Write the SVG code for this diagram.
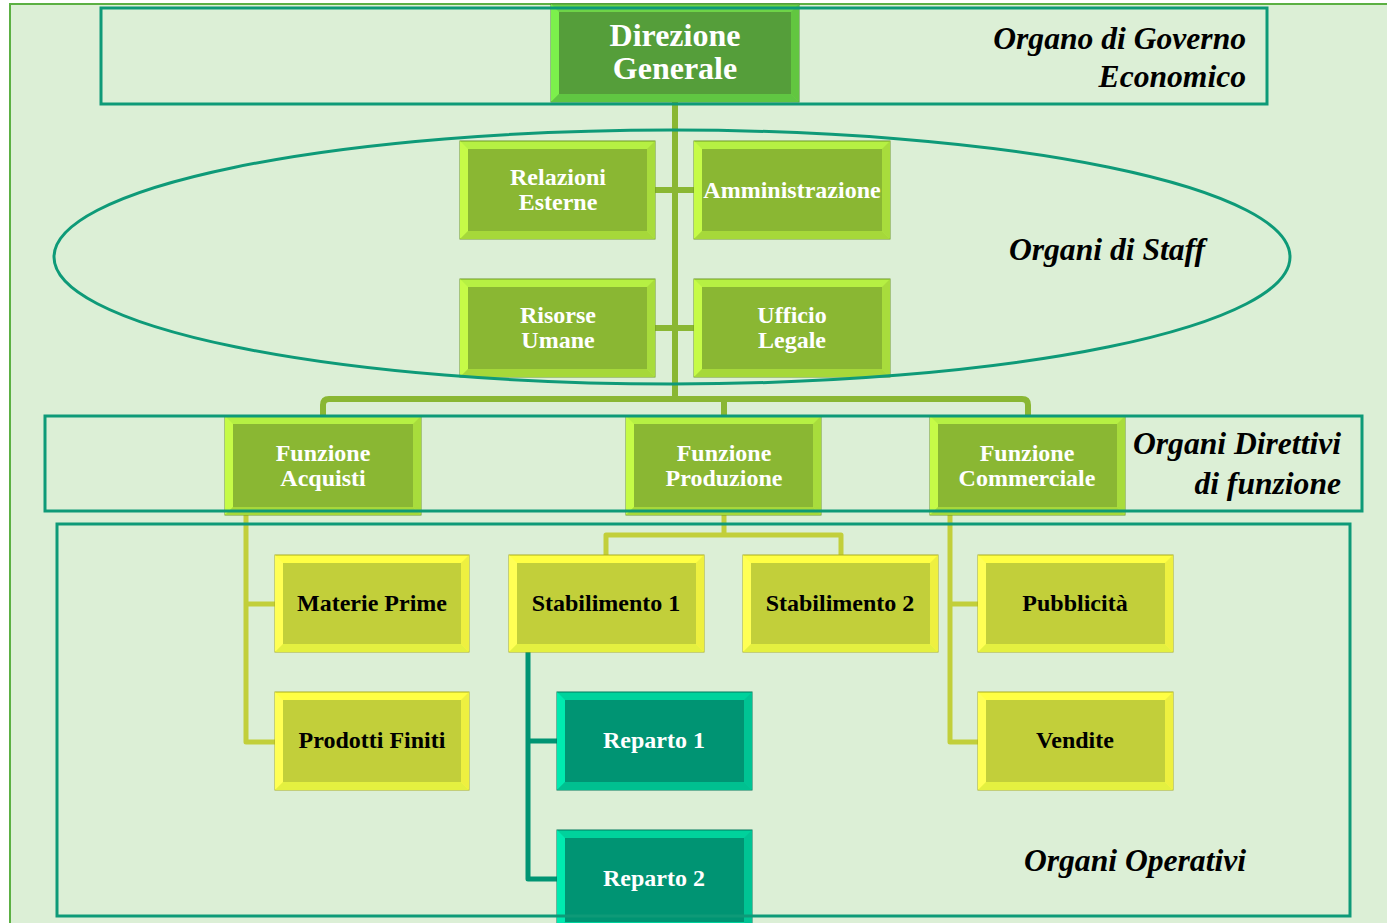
<svg xmlns="http://www.w3.org/2000/svg" width="1387" height="923" viewBox="0 0 1387 923">
  <defs>
    <style>
      .bg { fill: #dcefd6; stroke: #5cb043; stroke-width: 2; }
      .frame { fill: none; stroke: #0e9a78; stroke-width: 3; }
      .lbl { font-family: "Liberation Serif", "Times New Roman", serif; font-weight: bold; font-style: italic; font-size: 31.6px; fill: #000; text-anchor: end; }
      .t { font-family: "Liberation Serif", "Times New Roman", serif; font-weight: bold; font-size: 24px; text-anchor: middle; }
      .tw { fill: #ffffff; }
      .tk { fill: #000000; }
      .big { font-size: 32px; }
      .cg { fill: none; stroke: #8ab733; stroke-width: 6; stroke-linejoin: round; }
      .cy { fill: none; stroke: #c2cf3a; stroke-width: 5; stroke-linejoin: round; }
      .ct { fill: none; stroke: #009473; stroke-width: 5; stroke-linejoin: round; }
      /* bevelled boxes: base = top bevel, then left/right/bottom bevels, then face */
      .dg .b { fill: #6ed448; stroke: #4a8c34; stroke-width: 1; }
      .dg .l { fill: #7cf04c; } .dg .r { fill: #62c640; } .dg .d { fill: #60c642; } .dg .f { fill: #559e3a; }
      .gr .b { fill: #b6f043; stroke: #6f9a27; stroke-width: 1; }
      .gr .l { fill: #c6fb47; } .gr .r { fill: #a8dc3c; } .gr .d { fill: #a6d83a; } .gr .f { fill: #8ab733; }
      .ye .b { fill: #ffff44; stroke: #a9ad1f; stroke-width: 1; }
      .ye .l { fill: #ffff55; } .ye .r { fill: #eef040; } .ye .d { fill: #e4f040; } .ye .f { fill: #c2cf3a; }
      .te .b { fill: #00d29c; stroke: #007a5e; stroke-width: 1; }
      .te .l { fill: #00eab0; } .te .r { fill: #00c494; } .te .d { fill: #00c090; } .te .f { fill: #009473; }
    </style>
  </defs>

  <!-- page background -->
  <rect class="bg" x="10" y="4" width="1390" height="930"/>

  <!-- connectors -->
  <g id="connectors">
    <path class="cg" d="M675,102 V399"/>
    <path class="cg" d="M655,190 H694 M655,328 H694"/>
    <path class="cg" d="M323,416 V405 Q323,399 329,399 H1022 Q1028,399 1028,405 V416 M724,399 V416"/>
    <path class="cy" d="M246,515 V742 H275 M246,604 H275"/>
    <path class="cy" d="M724,515 V535 M606,555 V535 H841 V555"/>
    <path class="cy" d="M950,515 V742 H978 M950,604 H978"/>
    <path class="ct" d="M528,652 V879 H557 M528,741 H557"/>
  </g>

  <!-- Direzione Generale -->
  <g id="direzione" class="dg">
    <rect class="b" x="551" y="4" width="248" height="98"/>
    <polygon class="l" points="551,4 559,12 559,94 551,102"/>
    <polygon class="r" points="799,4 791,12 791,94 799,102"/>
    <polygon class="d" points="551,102 559,94 791,94 799,102"/>
    <rect class="f" x="559" y="12" width="232" height="82"/>
    <text class="t tw big" x="675" y="46">Direzione</text>
    <text class="t tw big" x="675" y="79">Generale</text>
  </g>

  <!-- staff -->
  <g id="relazioni" class="gr">
    <rect class="b" x="460" y="141" width="195" height="98"/>
    <polygon class="l" points="460,141 468,149 468,231 460,239"/>
    <polygon class="r" points="655,141 647,149 647,231 655,239"/>
    <polygon class="d" points="460,239 468,231 647,231 655,239"/>
    <rect class="f" x="468" y="149" width="179" height="82"/>
    <text class="t tw" x="558" y="185">Relazioni</text>
    <text class="t tw" x="558" y="210">Esterne</text>
  </g>
  <g id="amministrazione" class="gr">
    <rect class="b" x="694" y="141" width="196" height="98"/>
    <polygon class="l" points="694,141 702,149 702,231 694,239"/>
    <polygon class="r" points="890,141 882,149 882,231 890,239"/>
    <polygon class="d" points="694,239 702,231 882,231 890,239"/>
    <rect class="f" x="702" y="149" width="180" height="82"/>
    <text class="t tw" x="792" y="198">Amministrazione</text>
  </g>
  <g id="risorse" class="gr">
    <rect class="b" x="460" y="279" width="195" height="98"/>
    <polygon class="l" points="460,279 468,287 468,369 460,377"/>
    <polygon class="r" points="655,279 647,287 647,369 655,377"/>
    <polygon class="d" points="460,377 468,369 647,369 655,377"/>
    <rect class="f" x="468" y="287" width="179" height="82"/>
    <text class="t tw" x="558" y="323">Risorse</text>
    <text class="t tw" x="558" y="348">Umane</text>
  </g>
  <g id="ufficio" class="gr">
    <rect class="b" x="694" y="279" width="196" height="98"/>
    <polygon class="l" points="694,279 702,287 702,369 694,377"/>
    <polygon class="r" points="890,279 882,287 882,369 890,377"/>
    <polygon class="d" points="694,377 702,369 882,369 890,377"/>
    <rect class="f" x="702" y="287" width="180" height="82"/>
    <text class="t tw" x="792" y="323">Ufficio</text>
    <text class="t tw" x="792" y="348">Legale</text>
  </g>

  <!-- funzioni -->
  <g id="acquisti" class="gr">
    <rect class="b" x="225" y="416" width="196" height="99"/>
    <polygon class="l" points="225,416 233,424 233,507 225,515"/>
    <polygon class="r" points="421,416 413,424 413,507 421,515"/>
    <polygon class="d" points="225,515 233,507 413,507 421,515"/>
    <rect class="f" x="233" y="424" width="180" height="83"/>
    <text class="t tw" x="323" y="461">Funzione</text>
    <text class="t tw" x="323" y="486">Acquisti</text>
  </g>
  <g id="produzione" class="gr">
    <rect class="b" x="626" y="416" width="195" height="99"/>
    <polygon class="l" points="626,416 634,424 634,507 626,515"/>
    <polygon class="r" points="821,416 813,424 813,507 821,515"/>
    <polygon class="d" points="626,515 634,507 813,507 821,515"/>
    <rect class="f" x="634" y="424" width="179" height="83"/>
    <text class="t tw" x="724" y="461">Funzione</text>
    <text class="t tw" x="724" y="486">Produzione</text>
  </g>
  <g id="commerciale" class="gr">
    <rect class="b" x="930" y="416" width="195" height="99"/>
    <polygon class="l" points="930,416 938,424 938,507 930,515"/>
    <polygon class="r" points="1125,416 1117,424 1117,507 1125,515"/>
    <polygon class="d" points="930,515 938,507 1117,507 1125,515"/>
    <rect class="f" x="938" y="424" width="179" height="83"/>
    <text class="t tw" x="1027" y="461">Funzione</text>
    <text class="t tw" x="1027" y="486">Commerciale</text>
  </g>

  <!-- operativi -->
  <g id="materie" class="ye">
    <rect class="b" x="275" y="555" width="194" height="97"/>
    <polygon class="l" points="275,555 283,563 283,644 275,652"/>
    <polygon class="r" points="469,555 461,563 461,644 469,652"/>
    <polygon class="d" points="275,652 283,644 461,644 469,652"/>
    <rect class="f" x="283" y="563" width="178" height="81"/>
    <text class="t tk" x="372" y="611">Materie Prime</text>
  </g>
  <g id="prodotti" class="ye">
    <rect class="b" x="275" y="692" width="194" height="98"/>
    <polygon class="l" points="275,692 283,700 283,782 275,790"/>
    <polygon class="r" points="469,692 461,700 461,782 469,790"/>
    <polygon class="d" points="275,790 283,782 461,782 469,790"/>
    <rect class="f" x="283" y="700" width="178" height="82"/>
    <text class="t tk" x="372" y="748">Prodotti Finiti</text>
  </g>
  <g id="stabilimento1" class="ye">
    <rect class="b" x="509" y="555" width="195" height="97"/>
    <polygon class="l" points="509,555 517,563 517,644 509,652"/>
    <polygon class="r" points="704,555 696,563 696,644 704,652"/>
    <polygon class="d" points="509,652 517,644 696,644 704,652"/>
    <rect class="f" x="517" y="563" width="179" height="81"/>
    <text class="t tk" x="606" y="611">Stabilimento 1</text>
  </g>
  <g id="stabilimento2" class="ye">
    <rect class="b" x="743" y="555" width="195" height="97"/>
    <polygon class="l" points="743,555 751,563 751,644 743,652"/>
    <polygon class="r" points="938,555 930,563 930,644 938,652"/>
    <polygon class="d" points="743,652 751,644 930,644 938,652"/>
    <rect class="f" x="751" y="563" width="179" height="81"/>
    <text class="t tk" x="840" y="611">Stabilimento 2</text>
  </g>
  <g id="pubblicita" class="ye">
    <rect class="b" x="978" y="555" width="195" height="97"/>
    <polygon class="l" points="978,555 986,563 986,644 978,652"/>
    <polygon class="r" points="1173,555 1165,563 1165,644 1173,652"/>
    <polygon class="d" points="978,652 986,644 1165,644 1173,652"/>
    <rect class="f" x="986" y="563" width="179" height="81"/>
    <text class="t tk" x="1075" y="611">Pubblicità</text>
  </g>
  <g id="vendite" class="ye">
    <rect class="b" x="978" y="692" width="195" height="98"/>
    <polygon class="l" points="978,692 986,700 986,782 978,790"/>
    <polygon class="r" points="1173,692 1165,700 1165,782 1173,790"/>
    <polygon class="d" points="978,790 986,782 1165,782 1173,790"/>
    <rect class="f" x="986" y="700" width="179" height="82"/>
    <text class="t tk" x="1075" y="748">Vendite</text>
  </g>
  <g id="reparto1" class="te">
    <rect class="b" x="557" y="692" width="195" height="98"/>
    <polygon class="l" points="557,692 565,700 565,782 557,790"/>
    <polygon class="r" points="752,692 744,700 744,782 752,790"/>
    <polygon class="d" points="557,790 565,782 744,782 752,790"/>
    <rect class="f" x="565" y="700" width="179" height="82"/>
    <text class="t tw" x="654" y="748">Reparto 1</text>
  </g>
  <g id="reparto2" class="te">
    <rect class="b" x="557" y="830" width="195" height="100"/>
    <polygon class="l" points="557,830 565,838 565,922 557,930"/>
    <polygon class="r" points="752,830 744,838 744,922 752,930"/>
    <rect class="f" x="565" y="838" width="179" height="84"/>
    <text class="t tw" x="654" y="886">Reparto 2</text>
  </g>

  <!-- organisational levels -->
  <g id="livelli">
    <rect class="frame" x="101" y="8" width="1166" height="96"/>
    <ellipse class="frame" cx="672" cy="257" rx="618" ry="127"/>
    <rect class="frame" x="45" y="416" width="1317" height="95"/>
    <rect class="frame" x="57" y="524" width="1293" height="392"/>
    <text class="lbl" x="1246" y="49">Organo di Governo</text>
    <text class="lbl" x="1246" y="87">Economico</text>
    <text class="lbl" x="1205" y="260">Organi di Staff</text>
    <text class="lbl" x="1341" y="454">Organi Direttivi</text>
    <text class="lbl" x="1341" y="494">di funzione</text>
    <text class="lbl" x="1246" y="871">Organi Operativi</text>
  </g>
</svg>
